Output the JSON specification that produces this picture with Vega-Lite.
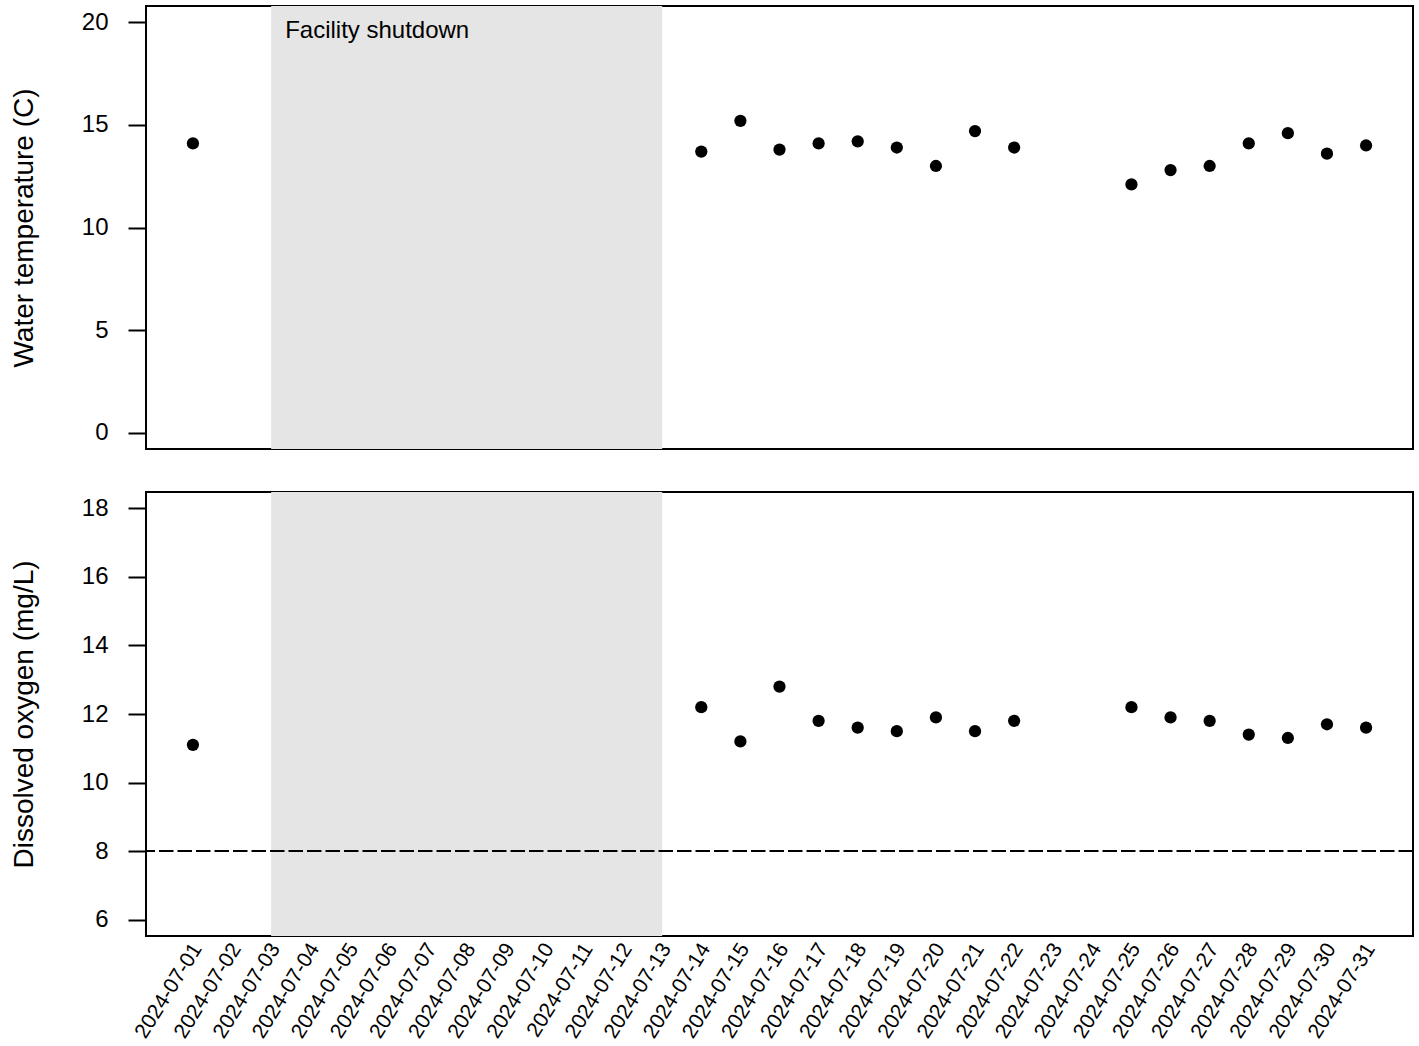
{
  "$schema": "https://vega.github.io/schema/vega-lite/v6.json",
  "padding": {"left": 8, "top": 5, "right": 5, "bottom": 0},
  "background": "white",
  "spacing": 41,
  "config": {
    "font": "Liberation Sans",
    "view": {"stroke": "black", "strokeWidth": 2},
    "axis": {"grid": false, "labelColor": "black", "titleColor": "black", "titleFontWeight": "normal"}
  },
  "datasets": {
    "obs": [
      {"date": "2024-07-01", "temp": 14.1, "do": 11.1},
      {"date": "2024-07-14", "temp": 13.7, "do": 12.2},
      {"date": "2024-07-15", "temp": 15.2, "do": 11.2},
      {"date": "2024-07-16", "temp": 13.8, "do": 12.8},
      {"date": "2024-07-17", "temp": 14.1, "do": 11.8},
      {"date": "2024-07-18", "temp": 14.2, "do": 11.6},
      {"date": "2024-07-19", "temp": 13.9, "do": 11.5},
      {"date": "2024-07-20", "temp": 13.0, "do": 11.9},
      {"date": "2024-07-21", "temp": 14.7, "do": 11.5},
      {"date": "2024-07-22", "temp": 13.9, "do": 11.8},
      {"date": "2024-07-25", "temp": 12.1, "do": 12.2},
      {"date": "2024-07-26", "temp": 12.8, "do": 11.9},
      {"date": "2024-07-27", "temp": 13.0, "do": 11.8},
      {"date": "2024-07-28", "temp": 14.1, "do": 11.4},
      {"date": "2024-07-29", "temp": 14.6, "do": 11.3},
      {"date": "2024-07-30", "temp": 13.6, "do": 11.7},
      {"date": "2024-07-31", "temp": 14.0, "do": 11.6}
    ],
    "shutdown": [{"start": "2024-07-03", "end": "2024-07-13", "label": "Facility shutdown"}],
    "threshold": [{"do_min": 8}]
  },
  "vconcat": [
    {
      "width": 1267,
      "height": 443,
      "layer": [
        {
          "data": {"name": "shutdown"},
          "mark": {"type": "rect", "color": "#E5E5E5"},
          "encoding": {
            "x": {"field": "start", "type": "temporal", "axis": null,
              "scale": {"type": "utc", "nice": false, "domain": [
                {"year": 2024, "month": "jun", "date": 29, "hours": 19, "minutes": 12, "utc": true},
                {"year": 2024, "month": "aug", "date": 1, "hours": 4, "minutes": 48, "utc": true}]}},
            "x2": {"field": "end"}
          }
        },
        {
          "data": {"name": "shutdown"},
          "mark": {"type": "text", "align": "left", "baseline": "middle", "dx": 14, "fontSize": 24, "color": "black"},
          "encoding": {
            "x": {"field": "start", "type": "temporal", "axis": null},
            "y": {"datum": 19.6, "type": "quantitative"},
            "text": {"field": "label"}
          }
        },
        {
          "data": {"name": "obs"},
          "mark": {"type": "circle", "size": 150, "color": "black", "opacity": 1},
          "encoding": {
            "x": {"field": "date", "type": "temporal", "axis": null},
            "y": {"field": "temp", "type": "quantitative",
              "scale": {"domain": [-0.8, 20.8], "nice": false, "zero": false},
              "axis": {"title": "Water temperature (C)", "values": [0, 5, 10, 15, 20], "domain": false,
                "tickSize": 18, "tickWidth": 2, "tickColor": "black", "labelPadding": 20, "labelFontSize": 24,
                "titleFontSize": 28, "titleBaseline": "alphabetic", "titleX": -114}}
          }
        }
      ]
    },
    {
      "width": 1267,
      "height": 444,
      "encoding": {
        "x": {"field": "date", "type": "temporal",
          "scale": {"type": "utc", "nice": false, "domain": [
            {"year": 2024, "month": "jun", "date": 29, "hours": 19, "minutes": 12, "utc": true},
            {"year": 2024, "month": "aug", "date": 1, "hours": 4, "minutes": 48, "utc": true}]},
          "axis": {"title": null, "domain": false, "ticks": false, "tickSize": 0,
            "labelExpr": "utcFormat(datum.value, '%Y-%m-%d')",
            "labelAngle": -58, "labelAlign": "right", "labelBaseline": "middle", "labelPadding": 9, "labelOffset": 4,
            "labelFontSize": 21, "labelOverlap": false, "labelBound": false,
            "values": [
              {"year": 2024, "month": "jul", "date": 1, "utc": true},
              {"year": 2024, "month": "jul", "date": 2, "utc": true},
              {"year": 2024, "month": "jul", "date": 3, "utc": true},
              {"year": 2024, "month": "jul", "date": 4, "utc": true},
              {"year": 2024, "month": "jul", "date": 5, "utc": true},
              {"year": 2024, "month": "jul", "date": 6, "utc": true},
              {"year": 2024, "month": "jul", "date": 7, "utc": true},
              {"year": 2024, "month": "jul", "date": 8, "utc": true},
              {"year": 2024, "month": "jul", "date": 9, "utc": true},
              {"year": 2024, "month": "jul", "date": 10, "utc": true},
              {"year": 2024, "month": "jul", "date": 11, "utc": true},
              {"year": 2024, "month": "jul", "date": 12, "utc": true},
              {"year": 2024, "month": "jul", "date": 13, "utc": true},
              {"year": 2024, "month": "jul", "date": 14, "utc": true},
              {"year": 2024, "month": "jul", "date": 15, "utc": true},
              {"year": 2024, "month": "jul", "date": 16, "utc": true},
              {"year": 2024, "month": "jul", "date": 17, "utc": true},
              {"year": 2024, "month": "jul", "date": 18, "utc": true},
              {"year": 2024, "month": "jul", "date": 19, "utc": true},
              {"year": 2024, "month": "jul", "date": 20, "utc": true},
              {"year": 2024, "month": "jul", "date": 21, "utc": true},
              {"year": 2024, "month": "jul", "date": 22, "utc": true},
              {"year": 2024, "month": "jul", "date": 23, "utc": true},
              {"year": 2024, "month": "jul", "date": 24, "utc": true},
              {"year": 2024, "month": "jul", "date": 25, "utc": true},
              {"year": 2024, "month": "jul", "date": 26, "utc": true},
              {"year": 2024, "month": "jul", "date": 27, "utc": true},
              {"year": 2024, "month": "jul", "date": 28, "utc": true},
              {"year": 2024, "month": "jul", "date": 29, "utc": true},
              {"year": 2024, "month": "jul", "date": 30, "utc": true},
              {"year": 2024, "month": "jul", "date": 31, "utc": true}
            ]}}
      },
      "layer": [
        {
          "data": {"name": "shutdown"},
          "mark": {"type": "rect", "color": "#E5E5E5"},
          "encoding": {
            "x": {"field": "start", "type": "temporal"},
            "x2": {"field": "end"}
          }
        },
        {
          "data": {"name": "threshold"},
          "mark": {"type": "rule", "color": "black", "strokeWidth": 2, "strokeDash": [14.5, 4]},
          "encoding": {
            "x": null,
            "y": {"field": "do_min", "type": "quantitative"}
          }
        },
        {
          "data": {"name": "obs"},
          "mark": {"type": "circle", "size": 150, "color": "black", "opacity": 1},
          "encoding": {
            "y": {"field": "do", "type": "quantitative",
              "scale": {"domain": [5.52, 18.48], "nice": false, "zero": false},
              "axis": {"title": "Dissolved oxygen (mg/L)", "values": [6, 8, 10, 12, 14, 16, 18], "domain": false,
                "tickSize": 18, "tickWidth": 2, "tickColor": "black", "labelPadding": 20, "labelFontSize": 24,
                "titleFontSize": 28, "titleBaseline": "alphabetic", "titleX": -114}}
          }
        }
      ]
    }
  ]
}
